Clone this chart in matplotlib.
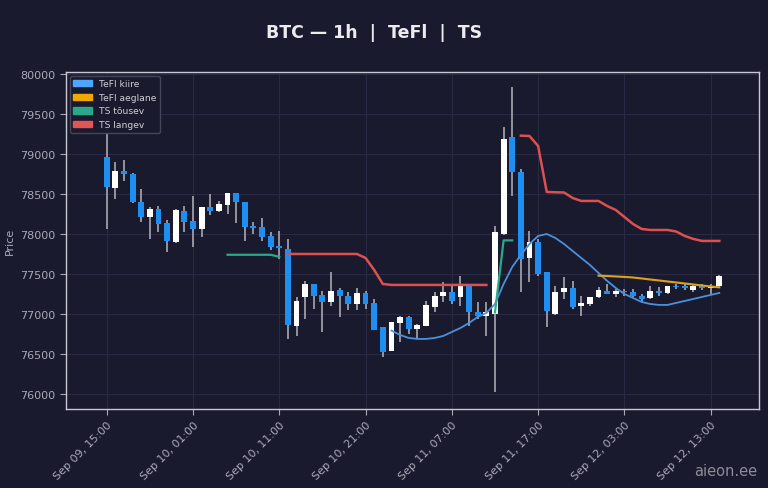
import numpy as np
import pandas as pd
import matplotlib
matplotlib.use("Agg")
import matplotlib.pyplot as plt
import matplotlib.dates as mdates
from matplotlib.patches import Patch

# 1h küünlad, Sep 09 15:00 ... Sep 12 14:00
aeg = pd.date_range("2025-09-09 15:00", periods=72, freq="h")

avamine = [78959, 78575, 78792, 78750, 78404, 78209, 78313, 78133, 77896, 78292,
           78158, 78063, 78342, 78292, 78367, 78508, 78396, 78104, 78092, 77979,
           77850, 77813, 76854, 77217, 77375, 77238, 77154, 77304, 77229, 77125,
           77263, 77138, 76833, 76542, 76888, 76958, 76813, 76854, 77083, 77229,
           77271, 77208, 77346, 77029, 76979, 77000, 78000, 79208, 78779, 77696,
           77896, 77521, 77000, 77271, 77321, 77096, 77125, 77208, 77292, 77250,
           77292, 77271, 77229, 77196, 77292, 77258, 77354, 77354, 77304, 77346,
           77321, 77354]
korge = [79300, 78896, 78925, 78760, 78563, 78333, 78354, 78179, 78310, 78354,
         78479, 78340, 78500, 78417, 78510, 78510, 78400, 78146, 78196, 78029,
         78042, 77938, 77208, 77417, 77380, 77292, 77521, 77320, 77271, 77321,
         77292, 77188, 76840, 76900, 76980, 76979, 76870, 77167, 77271, 77396,
         77375, 77479, 77350, 77146, 77146, 78104, 79333, 79833, 78813, 78042,
         77938, 77530, 77354, 77458, 77417, 77229, 77215, 77333, 77375, 77313,
         77313, 77313, 77250, 77354, 77333, 77350, 77375, 77385, 77375, 77375,
         77375, 77490]
madal = [78060, 78438, 78667, 78390, 78146, 77937, 78021, 77771, 77890, 78021,
         77833, 77958, 78241, 78271, 78250, 78133, 77908, 78000, 77917, 77800,
         77688, 76688, 76729, 76938, 77063, 76771, 77104, 76958, 77054, 77054,
         77063, 76800, 76458, 76540, 76650, 76750, 76688, 76850, 77021, 77146,
         77125, 77104, 76854, 76938, 76729, 76021, 77990, 78479, 77271, 77396,
         77479, 76833, 76990, 77188, 77063, 76971, 77104, 77200, 77245, 77208,
         77229, 77208, 77146, 77190, 77229, 77250, 77313, 77300, 77279, 77300,
         77250, 77340]
sulgemine = [78584, 78792, 78750, 78396, 78209, 78308, 78125, 77908, 78300, 78146,
             78063, 78333, 78292, 78375, 78508, 78396, 78092, 78071, 77958, 77833,
             77825, 76867, 77167, 77375, 77229, 77154, 77292, 77221, 77125, 77258,
             77125, 76804, 76521, 76896, 76958, 76813, 76863, 77113, 77229, 77271,
             77167, 77346, 77021, 76979, 77021, 78021, 79188, 78771, 77688, 77904,
             77500, 77033, 77271, 77321, 77083, 77133, 77208, 77300, 77250, 77292,
             77271, 77221, 77188, 77292, 77258, 77346, 77333, 77321, 77346, 77321,
             77354, 77479]

# joonte lõigud: (algusindeks, väärtused)
tefl_kiire_algus = 33
tefl_kiire = [76792, 76738, 76700, 76688, 76688, 76700, 76725, 76775, 76825, 76888,
              76963, 77013, 77125, 77375, 77588, 77738, 77875, 77975, 78000, 77950,
              77875, 77788, 77700, 77613, 77513, 77413, 77325, 77250, 77200, 77150,
              77125, 77113, 77113, 77138, 77163, 77188, 77213, 77238, 77263]
tefl_aeglane_algus = 57
tefl_aeglane = [77479, 77475, 77469, 77463, 77456, 77444, 77431, 77419, 77406, 77394,
                77381, 77369, 77356, 77344, 77333]
ts_tousev = [(14, [77740, 77740, 77740, 77740, 77740, 77740, 77715]),
             (45, [77020, 77920, 77920])]
ts_langev = [(21, [77750, 77750, 77750, 77750, 77750, 77750, 77750, 77750, 77750,
                   77700, 77550, 77375, 77363, 77363, 77363, 77363, 77363, 77363,
                   77363, 77363, 77363, 77363, 77363, 77363]),
             (48, [79229, 79225, 79100, 78525, 78521, 78519, 78450, 78413, 78413,
                   78413, 78350, 78300, 78213, 78125, 78063, 78050, 78050, 78050,
                   78031, 77975, 77938, 77913, 77913, 77913])]

taust = "#1a1a2e"
hall = "#a9a9b8"
sinine = "#1e8ff0"

fig = plt.figure(figsize=(7.68, 4.89), dpi=100, facecolor=taust)
ax = fig.add_axes([66 / 768, 79 / 489, 693 / 768, 337 / 489], facecolor=taust)

x = mdates.date2num(aeg)
o = np.array(avamine)
c = np.array(sulgemine)
tous = c >= o
laius = 0.68 / 24

ax.vlines(x, madal, korge, color="#b4b4bc", linewidth=1.1, zorder=2)
ax.bar(x[tous], (c - o)[tous], bottom=o[tous], width=laius, color="white", zorder=3)
ax.bar(x[~tous], (c - o)[~tous], bottom=o[~tous], width=laius, color=sinine, zorder=3)

ax.plot(x[tefl_kiire_algus:tefl_kiire_algus + len(tefl_kiire)], tefl_kiire,
        color="#4a90dc", linewidth=1.3, zorder=4)
ax.plot(x[tefl_aeglane_algus:tefl_aeglane_algus + len(tefl_aeglane)], tefl_aeglane,
        color="#dca21c", linewidth=1.5, zorder=4)
for algus, v in ts_tousev:
    ax.plot(x[algus:algus + len(v)], v, color="#2aa889", linewidth=1.6, zorder=4)
for algus, v in ts_langev:
    ax.plot(x[algus:algus + len(v)], v, color="#dc5050", linewidth=1.8, zorder=4)

tund = 1 / 24
ax.set_xlim(x[0] - 4.72 * tund, x[0] + 75.6 * tund)
ax.set_ylim(75812, 80025)
ax.set_yticks(np.arange(76000, 80001, 500))
ax.set_xticks(x[::10])
ax.xaxis.set_major_formatter(mdates.DateFormatter("%b %d, %H:%M"))
plt.setp(ax.get_xticklabels(), rotation=45, ha="right", rotation_mode="anchor")

ax.grid(True, color="#2a2a44", linewidth=0.8)
ax.set_axisbelow(True)
ax.tick_params(colors=hall, labelsize=8, length=4)
for s in ax.spines.values():
    s.set_color("#c8c8d4")
    s.set_linewidth(1.0)
ax.set_ylabel("Price", color=hall, fontsize=8)

kasitsad = [Patch(color="#4da6ff", label="TeFl kiire"),
            Patch(color="#f0a800", label="TeFl aeglane"),
            Patch(color="#2aa889", label="TS tõusev"),
            Patch(color="#e05555", label="TS langev")]
leg = ax.legend(handles=kasitsad, loc="upper left", fontsize=6.6, facecolor=taust,
                edgecolor="#44445a", labelcolor="#d0d0d8", framealpha=1,
                borderaxespad=0.4)
leg.set_zorder(10)

fig.text(374 / 768, 1 - 33 / 489, "BTC — 1h  |  TeFl  |  TS", ha="center", va="center",
         fontsize=12.5, fontweight="bold", color="#ececf0")
fig.text(757 / 768, 1 - 472 / 489, "aieon.ee", ha="right", va="center",
         fontsize=10.5, color="#a0a0ae", alpha=0.85)

fig.savefig("out.png", dpi=100, facecolor=taust)
